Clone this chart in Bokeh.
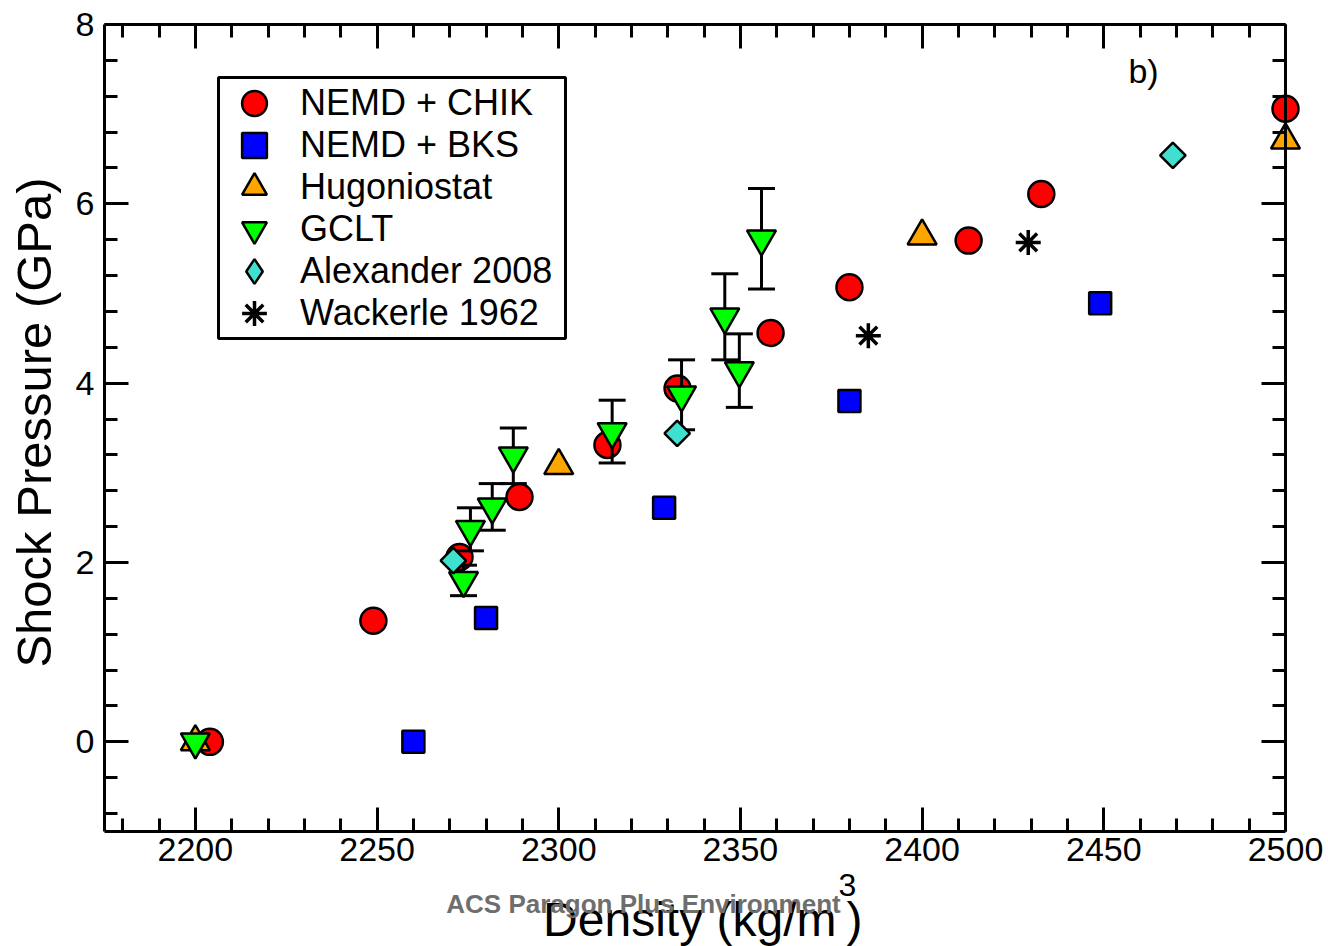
import numpy as np
from bokeh.plotting import figure
from bokeh.models import (Range1d, LinearAxis, FixedTicker, Legend, LegendItem,
                          Label, ColumnDataSource, BoxAnnotation)
from bokeh.embed import file_html
from bokeh.resources import INLINE

# ---------------- data ----------------
chik_density = [2204, 2249, 2272.7, 2289.2, 2313.4, 2332.7, 2358.3, 2380.0, 2412.8, 2432.8, 2500]
chik_pressure = [0.0, 1.35, 2.06, 2.73, 3.31, 3.94, 4.56, 5.07, 5.59, 6.11, 7.06]

bks_density = [2260, 2280, 2329, 2380, 2449]
bks_pressure = [0.0, 1.38, 2.61, 3.80, 4.89]

hug_density = [2200, 2300, 2400, 2500]
hug_pressure = [0.0, 3.08, 5.64, 6.71]

gclt_density = [2200, 2273.8, 2275.7, 2281.7, 2287.5, 2314.7, 2333.8, 2345.7, 2349.7, 2355.8]
gclt_pressure = [0.0, 1.80, 2.37, 2.62, 3.19, 3.46, 3.87, 4.74, 4.14, 5.61]
gclt_error = [0.0, 0.17, 0.24, 0.26, 0.31, 0.35, 0.39, 0.48, 0.41, 0.56]

alex_density = [2271, 2332.6, 2469]
alex_pressure = [2.02, 3.44, 6.54]

wack_density = [2385.2, 2429.2]
wack_pressure = [4.53, 5.57]

x_ticks = [2200, 2250, 2300, 2350, 2400, 2450, 2500]
y_ticks = [0, 2, 4, 6, 8]
x_limits = (2175, 2500)
y_limits = (-1, 8)

series_labels = ["NEMD + CHIK", "NEMD + BKS", "Hugoniostat", "GCLT",
                 "Alexander 2008", "Wackerle 1962"]

# ---------------- layout constants (pixels) ----------------
W, H = 1328, 946
FL, FR, FT, FB = 104, 1285, 24, 831       # the drawn axes box
kx = (FR - FL) / (x_limits[1] - x_limits[0])
ky = (FB - FT) / (y_limits[1] - y_limits[0])
x_range = Range1d(x_limits[0] - FL / kx, x_limits[1] + (W - FR) / kx)
y_range = Range1d(y_limits[0] - (H - FB) / ky, y_limits[1] + FT / ky)

FONT = "Liberation Sans"
p = figure(width=W, height=H, x_range=x_range, y_range=y_range,
           output_backend="svg", toolbar_location=None, min_border=0,
           background_fill_color="white", border_fill_color="white",
           outline_line_color=None)
p.grid.visible = False
p.xaxis.visible = False
p.yaxis.visible = False

x_minor = [v for v in range(2180, 2500, 10) if v not in x_ticks]
y_minor = [round(v, 1) for v in np.arange(-0.8, 8.0, 0.4) if round(v, 1) not in y_ticks]


def make_axis(ticks, minor, loc, bounds, show_labels, standoff=6):
    ax = LinearAxis(fixed_location=loc, bounds=bounds)
    ax.ticker = FixedTicker(ticks=ticks, minor_ticks=minor)
    ax.axis_line_color = "black"
    ax.axis_line_width = 3
    ax.major_tick_line_color = "black"
    ax.major_tick_line_width = 3
    ax.minor_tick_line_color = "black"
    ax.minor_tick_line_width = 3
    ax.major_tick_in = 24
    ax.major_tick_out = 0
    ax.minor_tick_in = 13
    ax.minor_tick_out = 0
    if show_labels:
        ax.major_label_text_font = FONT
        ax.major_label_text_font_size = "34px"
        ax.major_label_text_color = "black"
        ax.major_label_standoff = standoff
    else:
        ax.major_label_overrides = {t: "" for t in ticks}
        ax.major_label_text_font_size = "0px"
        ax.major_label_standoff = 0
    return ax


p.add_layout(make_axis(x_ticks, x_minor, y_limits[0], x_limits, True, 6), "below")
p.add_layout(make_axis(x_ticks, x_minor, y_limits[1], x_limits, False), "above")
p.add_layout(make_axis(y_ticks, y_minor, x_limits[0], y_limits, True, 10), "left")
p.add_layout(make_axis(y_ticks, y_minor, x_limits[1], y_limits, False), "right")

# ---------------- data marks ----------------
LW = 2.5
r_chik = p.scatter(chik_density, chik_pressure, marker="circle", size=26,
                   fill_color="#ff0000", line_color="black", line_width=LW)
r_bks = p.scatter(bks_density, bks_pressure, marker="square", size=22,
                  fill_color="#0000ff", line_color="black", line_width=LW)
r_hug = p.scatter(hug_density, hug_pressure, marker="triangle", size=29,
                  fill_color="#ffa500", line_color="black", line_width=LW)

gd = np.array(gclt_density)
gp = np.array(gclt_pressure)
ge = np.array(gclt_error)
m = ge > 0
err_src = ColumnDataSource(dict(x=gd[m], lo=gp[m] - ge[m], hi=gp[m] + ge[m]))
p.segment(x0="x", y0="lo", x1="x", y1="hi", source=err_src,
          line_color="black", line_width=3)
p.scatter(x="x", y="hi", source=err_src, marker="dash", size=27,
          line_color="black", line_width=3)
p.scatter(x="x", y="lo", source=err_src, marker="dash", size=27,
          line_color="black", line_width=3)

r_gclt = p.scatter(gclt_density, gclt_pressure, marker="inverted_triangle", size=29,
                   fill_color="#00ff00", line_color="black", line_width=LW)
# diamond glyph (used as the legend swatch), covered by the rotated squares below
r_alex_leg = p.scatter(alex_density, alex_pressure, marker="diamond", size=22,
                       fill_color="#40e0d0", line_color="black", line_width=LW)
r_alex = p.scatter(alex_density, alex_pressure, marker="square", size=18, angle=np.pi / 4,
                   fill_color="#40e0d0", line_color="black", line_width=LW)
r_wack = p.scatter(wack_density, wack_pressure, marker="asterisk", size=25,
                   line_color="black", line_width=3.5)

# ---------------- legend ----------------
LEG_L, LEG_R, LEG_T, LEG_B = 218, 565, 77, 338
ROW0, PITCH, GH = 103, 42, 62
p.add_layout(BoxAnnotation(left=LEG_L, right=LEG_R, top=H - LEG_T, bottom=H - LEG_B,
                           left_units="screen", right_units="screen",
                           top_units="screen", bottom_units="screen",
                           fill_color="white", fill_alpha=1.0,
                           line_color="black", line_width=3, line_alpha=1.0))
leg_renderers = [r_chik, r_bks, r_hug, r_gclt, r_alex_leg, r_wack]
for i, (lab, r) in enumerate(zip(series_labels, leg_renderers)):
    cy = ROW0 + PITCH * i
    lg = Legend(items=[LegendItem(label=lab, renderers=[r])],
                location=(LEG_L, H - cy - GH // 2), orientation="vertical",
                glyph_height=GH, glyph_width=72, spacing=0, padding=0, margin=0,
                label_standoff=10, label_height=GH,
                label_text_font=FONT, label_text_font_size="36px", label_text_color="black",
                label_text_baseline="middle",
                border_line_alpha=0.0, background_fill_alpha=0.0)
    p.add_layout(lg)

# ---------------- texts ----------------
p.add_layout(Label(x=1143, y=H - 70, x_units="screen", y_units="screen", text="b)",
                   text_font=FONT, text_font_size="34px", text_align="center",
                   text_baseline="middle", text_color="black"))

p.add_layout(Label(x=33, y=H - 422, x_units="screen", y_units="screen",
                   text="Shock Pressure (GPa)", angle=90, angle_units="deg",
                   text_font=FONT, text_font_size="49px", text_align="center",
                   text_baseline="middle", text_color="black"))

p.add_layout(Label(x=836, y=H - 919, x_units="screen", y_units="screen",
                   text="Density (kg/m", text_font=FONT, text_font_size="48px",
                   text_align="right", text_baseline="middle", text_color="black"))
p.add_layout(Label(x=838, y=H - 884, x_units="screen", y_units="screen",
                   text="3", text_font=FONT, text_font_size="32px",
                   text_align="left", text_baseline="middle", text_color="black"))
p.add_layout(Label(x=846, y=H - 919, x_units="screen", y_units="screen",
                   text=")", text_font=FONT, text_font_size="48px",
                   text_align="left", text_baseline="middle", text_color="black"))

p.add_layout(Label(x=643, y=H - 903, x_units="screen", y_units="screen",
                   text="ACS Paragon Plus Environment", text_font=FONT,
                   text_font_size="26px", text_font_style="bold",
                   text_align="center", text_baseline="middle", text_color="#6e6e6e"))

open("out.html", "w").write(file_html(p, INLINE))
